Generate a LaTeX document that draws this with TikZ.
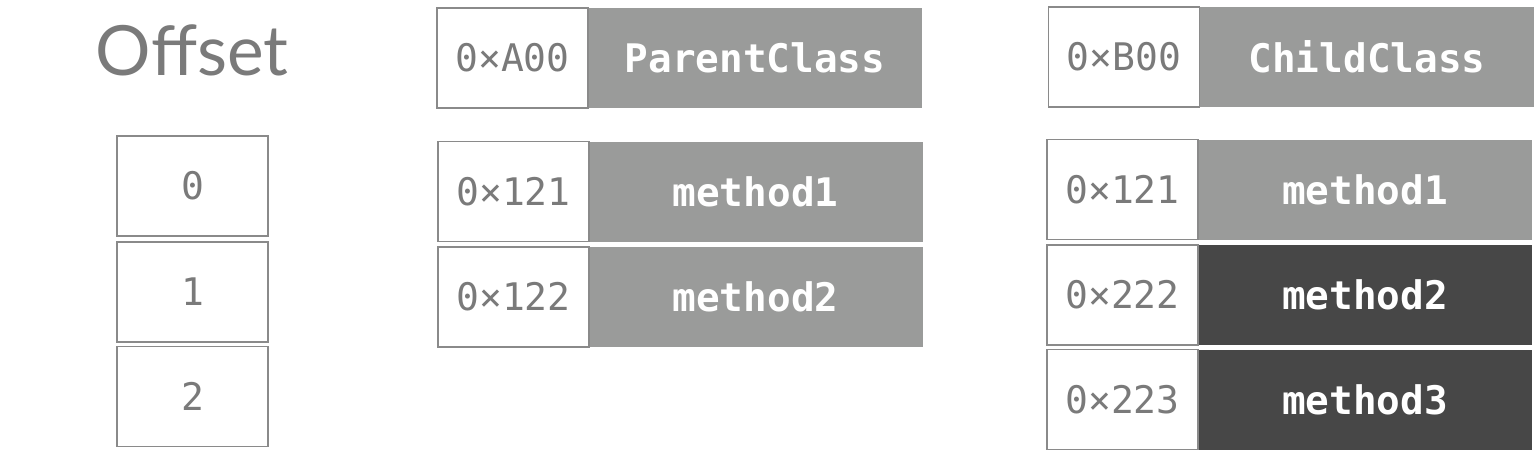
\documentclass[tikz,border=0pt]{standalone}
\usepackage{fontspec}
\setmainfont{Lato}
\newfontfamily\monof{DejaVu Sans Mono}
\begin{document}
\begin{tikzpicture}[x=0.75pt,y=-0.75pt]
\def\u{0.75pt}
\definecolor{lgray}{HTML}{9A9B9A}
\definecolor{dgray}{HTML}{474747}
\definecolor{bord}{HTML}{8A8A8A}
\definecolor{txtg}{HTML}{7A7A7A}
\tikzset{
  addr/.style={draw=bord, line width=1.6*\u, fill=white, inner sep=0pt,
    minimum width=151*\u, minimum height=100*\u, text=txtg,
    font=\monof\fontsize{28.5}{30}\selectfont},
  lab/.style={fill=lgray, inner sep=0pt, minimum width=334*\u, minimum height=100*\u,
    text=white, font=\monof\bfseries\fontsize{29.5}{30}\selectfont},
  labd/.style={lab, fill=dgray},
}
\useasboundingbox (0,0) rectangle (1534,450);
\fill[white] (0,0) rectangle (1534,450);
% Offset column
\node[text=txtg, font=\fontsize{52}{58}\selectfont, inner sep=0pt] (off) at (192,50) {Offset};
\node[addr] (o0) at (192.5,186) {0};
\node[addr] (o1) at (192.5,292) {1};
\node[addr] (o2) at (192.5,396.5) {2};
% Parent class
\node[lab] (pc) at (755,58) {ParentClass};
\node[addr] (pa) at (512.5,58) {0×A00};
\node[lab] (pm1) at (755.5,191.5) {method1};
\node[addr] (pa1) at (513.5,191.5) {0×121};
\node[lab] (pm2) at (755.5,297) {method2};
\node[addr] (pa2) at (513.5,297) {0×122};
% Child class
\node[lab] (cc) at (1367,57) {ChildClass};
\node[addr] (ca) at (1124,57) {0×B00};
\node[lab] (cm1) at (1365,189.5) {method1};
\node[addr] (ca1) at (1122.5,189.5) {0×121};
\node[labd] (cm2) at (1365,295) {method2};
\node[addr] (ca2) at (1122.5,295) {0×222};
\node[labd] (cm3) at (1365,399.5) {method3};
\node[addr] (ca3) at (1122.5,399.5) {0×223};
\end{tikzpicture}
\end{document}
